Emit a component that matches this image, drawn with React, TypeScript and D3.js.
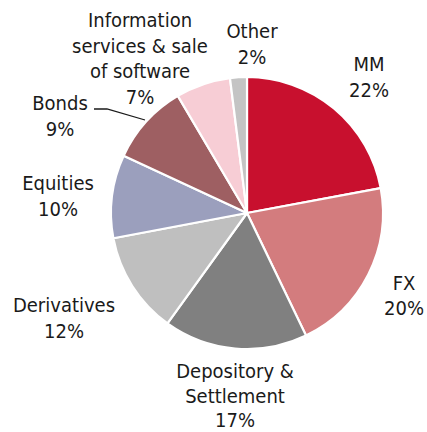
import React from "react";
import * as d3 from "d3";

const categories = [
  "MM",
  "FX",
  "Depository & Settlement",
  "Derivatives",
  "Equities",
  "Bonds",
  "Information services & sale of software",
  "Other",
];
const values = [22.1, 20.8, 17.1, 12.1, 9.9, 9.6, 6.5, 2.0];
const pctLabels = ["22%", "20%", "17%", "12%", "10%", "9%", "7%", "2%"];
const labelLines = [
  ["MM"],
  ["FX"],
  ["Depository &", "Settlement"],
  ["Derivatives"],
  ["Equities"],
  ["Bonds"],
  ["Information", "services & sale", "of software"],
  ["Other"],
];
const colors = [
  "#C8102E",
  "#D37C7E",
  "#808080",
  "#BFBFBF",
  "#9B9FBD",
  "#9E5F62",
  "#F7CDD5",
  "#C4C4C4",
];
// label anchor (center x, center y of first line), line height
const labelPos: [number, number, number][] = [
  [369, 64, 25.5],
  [404, 283, 25],
  [235, 371, 24.5],
  [64, 305, 25.5],
  [58, 183, 25.5],
  [60, 103, 25.5],
  [140, 20, 25.5],
  [252, 31, 26],
];

const W = 427;
const H = 432;
const CX = 247;
const CY = 213;
const R = 136;

export default function App() {
  const pie = d3
    .pie<number>()
    .sort(null)
    .value((d) => d);
  const arcs = pie(values);
  const arc = d3.arc<d3.PieArcDatum<number>>().innerRadius(0).outerRadius(R);
  const line = d3.line();
  const leader = line([
    [94, 109],
    [107, 109],
    [145, 120],
  ]);
  return (
    <svg
      width={W}
      height={H}
      style={{ position: "absolute", left: 0, top: 0 }}
      fontFamily="'DejaVu Sans Condensed', 'DejaVu Sans', sans-serif"
    >
      <rect width={W} height={H} fill="#fff" />
      <g transform={`translate(${CX},${CY})`}>
        {arcs.map((a, i) => (
          <path
            key={categories[i]}
            d={arc(a) || ""}
            fill={colors[i]}
            stroke="#fff"
            strokeWidth={2.2}
            strokeLinejoin="round"
          />
        ))}
      </g>
      <path d={leader || ""} fill="none" stroke="#1a1a1a" strokeWidth={1.3} />
      {categories.map((c, i) => {
        const lines = [...labelLines[i], pctLabels[i]];
        const [x, y, lh] = labelPos[i];
        return (
          <text
            key={c}
            x={x}
            y={y}
            textAnchor="middle"
            fontSize={20}
            fill="#1a1a1a"
          >
            {lines.map((l, j) => (
              <tspan key={j} x={x} y={y + j * lh} dy="0.36em">
                {l}
              </tspan>
            ))}
          </text>
        );
      })}
    </svg>
  );
}
